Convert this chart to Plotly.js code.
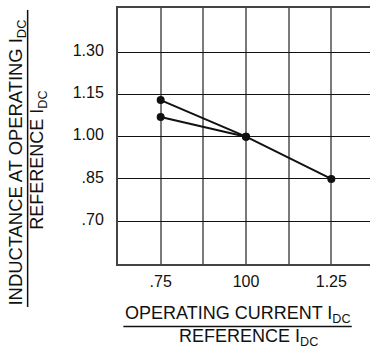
<!DOCTYPE html>
<html>
<head>
<meta charset="utf-8">
<script src="https://cdn.plot.ly/plotly-3.0.1.min.js"></script>
<style>
html,body{margin:0;padding:0;overflow:hidden;background:#fff;width:370px;height:349px;}
#chart{width:380px;height:349px;}
</style>
</head>
<body>
<div id="chart"></div>
<script>
// Data
const upperX = [0.75, 1.00, 1.25];
const upperY = [1.13, 1.00, 0.85];
const lowerX = [0.75, 1.00];
const lowerY = [1.07, 1.00];

const xTickVals = [0.75, 1.00, 1.25];
const xTickText = ['.75', '100', '1.25'];
const yTickVals = [0.70, 0.85, 1.00, 1.15, 1.30];
const yTickText = ['.70', '.85', '1.00', '1.15', '1.30'];

const xTitleTop = 'OPERATING CURRENT I<sub>DC</sub>';
const xTitleBottom = 'REFERENCE I<sub>DC</sub>';
const yTitleTop = 'INDUCTANCE AT OPERATING I<sub>DC</sub>';
const yTitleBottom = 'REFERENCE I<sub>DC</sub>';

const FONT = 'Liberation Sans, Arial, Helvetica, sans-serif';
const INK = '#111';

const lineStyle = {color: INK, width: 2};
const markerStyle = {color: INK, size: 8};

const traces = [
  {x: upperX, y: upperY, mode: 'lines+markers', line: lineStyle, marker: markerStyle, showlegend: false, hoverinfo: 'skip'},
  {x: lowerX, y: lowerY, mode: 'lines+markers', line: lineStyle, marker: markerStyle, showlegend: false, hoverinfo: 'skip'}
];

const layout = {
  width: 380, height: 349,
  margin: {l: 118, r: 6, t: 8, b: 85, pad: 0},
  paper_bgcolor: '#fff', plot_bgcolor: '#fff',
  font: {family: FONT, size: 16, color: INK},
  showlegend: false,
  xaxis: {
    range: [0.625, 1.375],
    tickmode: 'array', tickvals: xTickVals, ticktext: xTickText,
    ticks: '', ticklen: 0, ticklabelstandoff: 2,
    showgrid: true, gridcolor: '#7a7a7a', gridwidth: 2,
    minor: {tick0: 0.625, dtick: 0.125, showgrid: true, gridcolor: '#7a7a7a', gridwidth: 2, ticks: '', ticklen: 0},
    showline: true, linecolor: '#444', linewidth: 2, mirror: true,
    zeroline: false, fixedrange: true,
    tickfont: {family: FONT, size: 16, color: INK}
  },
  yaxis: {
    range: [0.548, 1.457],
    tickmode: 'array', tickvals: yTickVals, ticktext: yTickText,
    ticks: '', ticklabelstandoff: 9, ticklabelshift: -2,
    showgrid: true, gridcolor: '#111', gridwidth: 1,
    showline: true, linecolor: '#444', linewidth: 2, mirror: false,
    zeroline: false, fixedrange: true,
    tickfont: {family: FONT, size: 16, color: INK}
  },
  annotations: [
    {text: xTitleTop, xref: 'paper', yref: 'paper', x: 0.467, y: -0.198, xanchor: 'center', yanchor: 'middle', showarrow: false, font: {family: FONT, size: 18, color: INK}},
    {text: xTitleBottom, xref: 'paper', yref: 'paper', x: 0.508, y: -0.287, xanchor: 'center', yanchor: 'middle', showarrow: false, font: {family: FONT, size: 18, color: INK}},
    {text: yTitleTop, xref: 'paper', yref: 'paper', x: -0.393, y: 0.398, xanchor: 'center', yanchor: 'middle', textangle: -90, showarrow: false, font: {family: FONT, size: 18.4, color: INK}},
    {text: yTitleBottom, xref: 'paper', yref: 'paper', x: -0.311, y: 0.405, xanchor: 'center', yanchor: 'middle', textangle: -90, showarrow: false, font: {family: FONT, size: 18, color: INK}}
  ],
  shapes: [
    {type: 'line', xref: 'paper', yref: 'paper', x0: 0.021, x1: 0.913, y0: -0.244, y1: -0.244, line: {color: INK, width: 1.5}},
    {type: 'line', xref: 'paper', yref: 'paper', x0: -0.353, x1: -0.353, y0: -0.168, y1: 0.992, line: {color: INK, width: 1.5}}
  ]
};

Plotly.newPlot('chart', traces, layout, {displayModeBar: false, staticPlot: true});
</script>
</body>
</html>
